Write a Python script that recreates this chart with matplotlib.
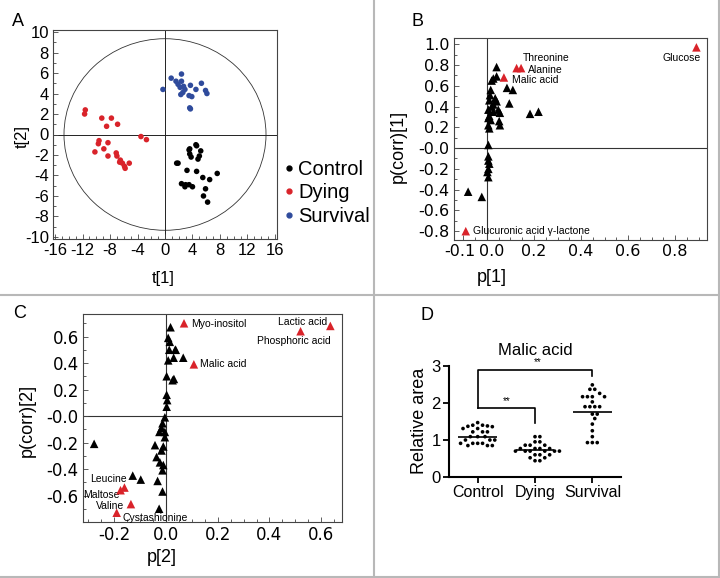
import numpy as np
import matplotlib
matplotlib.use('Agg')
import matplotlib.pyplot as plt
from matplotlib.patches import Ellipse
from matplotlib.lines import Line2D
from matplotlib.ticker import MultipleLocator
from matplotlib.transforms import ScaledTranslation

plt.rcParams['font.family'] = ['Liberation Sans', 'DejaVu Sans']
plt.rcParams['axes.unicode_minus'] = False

# ---------------- Panel A data (scores plot) ----------------
control_t1 = [4.6, 3.5, 3.6, 3.8, 5.0, 4.8, 1.9, 1.7, 3.2, 4.6, 7.6, 5.5, 6.5, 2.4, 2.9, 3.5, 4.0,
              5.9, 5.6, 6.2, 4.5, 3.6, 5.2, 3.0]
control_t2 = [-1.1, -1.5, -1.9, -2.2, -2.1, -2.4, -2.8, -2.8, -3.5, -3.6, -3.8, -4.2, -4.4, -4.8, -5.1,
              -4.9, -5.1, -5.3, -6.0, -6.6, -1.0, -1.4, -1.6, -4.9]
dying_t1 = [-11.6, -11.7, -9.2, -7.8, -8.5, -6.9, -3.5, -2.7, -9.6, -9.7, -8.3, -10.2, -8.9, -8.3,
            -7.1, -7.0, -6.5, -6.2, -5.8, -5.2, -5.9, -6.6]
dying_t2 = [2.4, 2.0, 1.6, 1.6, 0.8, 1.0, -0.2, -0.5, -0.6, -0.9, -0.8, -1.7, -1.4, -2.1,
            -1.8, -2.1, -2.5, -2.8, -3.3, -2.8, -3.1, -2.7]
survival_t1 = [-0.3, 0.9, 1.6, 2.4, 2.4, 2.2, 2.7, 2.3, 3.7, 4.5, 5.3, 5.9, 6.1, 3.5, 3.9, 3.6,
               3.7, 2.9, 1.9, 2.6]
survival_t2 = [4.4, 5.5, 5.2, 5.9, 5.2, 4.6, 4.7, 3.9, 4.8, 4.4, 5.0, 4.3, 4.0, 3.8, 3.7, 2.6,
               2.5, 4.4, 4.9, 4.1]
group_names = ['Control', 'Dying', 'Survival']
group_colors = ['#000000', '#d9232a', '#2f4b9c']
ellipse_radii = [14.7, 9.35]

# ---------------- Panel B data (S-plot, component 1) ----------------
b_black_p = [0.041, 0.027, 0.041, 0.020, 0.085, 0.110, 0.095, 0.183, 0.219,
             0.016, 0.013, 0.010, 0.035, 0.041, 0.020, 0.006, 0.027, 0.048, 0.055, 0.010,
             0.016, 0.052, 0.006, 0.055, 0.010, 0.027, 0.006,
             0.006, 0.006, 0.006, 0.010, 0.006, 0.002, 0.006, -0.080, -0.022]
b_black_corr = [0.78, 0.67, 0.69, 0.65, 0.58, 0.56, 0.43, 0.33, 0.35,
                0.56, 0.51, 0.46, 0.48, 0.45, 0.40, 0.37, 0.35, 0.37, 0.34, 0.31,
                0.27, 0.26, 0.22, 0.22, 0.19, 0.42, 0.29,
                0.03, -0.08, -0.12, -0.15, -0.20, -0.23, -0.28, -0.42, -0.47]
b_red_names = ['Threonine', 'Alanine', 'Malic acid', 'Glucose', 'Glucuronic acid \u03b3-lactone']
b_red_p = [0.145, 0.126, 0.072, 0.89, -0.09]
b_red_corr = [0.77, 0.77, 0.68, 0.97, -0.80]
b_xticks = [-0.1, 0.0, 0.2, 0.4, 0.6, 0.8]
b_xticklabels = ['-0.1', '0.0', '0.2', '0.4', '0.6', '0.8']
b_yticks = [-0.8, -0.6, -0.4, -0.2, 0.0, 0.2, 0.4, 0.6, 0.8, 1.0]
b_yticklabels = ['-0.8', '-0.6', '-0.4', '-0.2', '-0.0', '0.2', '0.4', '0.6', '0.8', '1.0']

# ---------------- Panel C data (S-plot, component 2) ----------------
c_black_p = [0.018, 0.009, 0.015, 0.013, 0.036, 0.030, 0.009, 0.003, 0.026, 0.003, 0.005, 0.003,
             -0.004, -0.013, -0.017, -0.025, -0.004, 0.067, 0.038, 0.031,
             -0.277, -0.042, -0.010, -0.017, -0.036, -0.023, -0.010, -0.013, -0.128, -0.097,
             -0.032, -0.013, -0.026, -0.004]
c_black_corr = [0.67, 0.59, 0.56, 0.50, 0.50, 0.44, 0.42, 0.30, 0.27, 0.16, 0.12, 0.07,
                -0.01, -0.055, -0.09, -0.12, -0.12, 0.44, 0.50, 0.28,
                -0.21, -0.22, -0.23, -0.26, -0.31, -0.35, -0.37, -0.41, -0.45, -0.48,
                -0.49, -0.57, -0.70, -0.16]
c_red_names = ['Myo-inositol', 'Malic acid', 'Lactic acid', 'Phosphoric acid',
               'Leucine', 'Maltose', 'Valine', 'Cystashionine']
c_red_p = [0.07, 0.108, 0.635, 0.52, -0.16, -0.175, -0.135, -0.19]
c_red_corr = [0.70, 0.39, 0.68, 0.64, -0.54, -0.56, -0.665, -0.73]
c_xticks = [-0.2, 0.0, 0.2, 0.4, 0.6]
c_xticklabels = ['-0.2', '0.0', '0.2', '0.4', '0.6']
c_yticks = [-0.6, -0.4, -0.2, 0.0, 0.2, 0.4, 0.6]
c_yticklabels = ['-0.6', '-0.4', '-0.2', '-0.0', '0.2', '0.4', '0.6']

# ---------------- Panel D data (Malic acid relative area) ----------------
d_control = [1.47, 1.40, 1.40, 1.38, 1.37, 1.36, 1.31, 1.31, 1.22, 1.22, 1.22, 1.09, 1.09, 1.09,
             1.00, 1.00, 1.00, 0.91, 0.91, 0.91, 0.91, 0.85, 0.85, 0.85]
d_dying = [1.09, 1.09, 0.95, 0.95, 0.86, 0.86, 0.86, 0.77, 0.77, 0.77, 0.77, 0.70, 0.70, 0.70,
           0.70, 0.70, 0.70, 0.60, 0.60, 0.60, 0.52, 0.52, 0.44, 0.44]
d_survival = [2.49, 2.37, 2.37, 2.26, 2.17, 2.17, 2.17, 2.17, 2.03, 1.90, 1.90, 1.90, 1.90,
              1.70, 1.70, 1.58, 1.43, 1.25, 1.09, 0.93, 0.93, 0.93]
d_means = [1.08, 0.73, 1.76]
d_groups = ['Control', 'Dying', 'Survival']

# ======================================================================
fig = plt.figure(figsize=(7.2, 5.78), dpi=100)
FW, FH = 720.0, 578.0


def px_axes(l, t, r, b):
    return fig.add_axes([l / FW, 1 - b / FH, (r - l) / FW, (b - t) / FH])


def label_at(ax, which, xpx, ypx):
    pos = ax.get_position()
    ax_x = (xpx / FW - pos.x0) / pos.width
    ax_y = ((1 - ypx / FH) - pos.y0) / pos.height
    axis = ax.xaxis if which == 'x' else ax.yaxis
    axis.label.set_verticalalignment('center')
    axis.label.set_horizontalalignment('center')
    axis.set_label_coords(ax_x, ax_y)


def style_box(ax, labelsize, family):
    for s in ax.spines.values():
        s.set_linewidth(0.8)
        s.set_color('#444444')
    ax.tick_params(which='both', direction='in', top=False, right=False,
                   width=0.6, color='#444444', labelsize=labelsize, pad=3)
    ax.tick_params(which='major', length=3.5)
    ax.tick_params(which='minor', length=2)
    for lab in ax.get_xticklabels() + ax.get_yticklabels():
        lab.set_family(family)


# ---------------- Panel A ----------------
axA = px_axes(53, 30, 277, 239)
axA.add_patch(Ellipse((0, 0), 2 * ellipse_radii[0], 2 * ellipse_radii[1], fill=False,
                      lw=0.6, ec='#333333'))
axA.axhline(0, color='#222222', lw=0.7, zorder=1)
axA.axvline(0, color='#222222', lw=0.7, zorder=1)
for xs, ys, c in [(control_t1, control_t2, group_colors[0]),
                  (dying_t1, dying_t2, group_colors[1]),
                  (survival_t1, survival_t2, group_colors[2])]:
    axA.scatter(xs, ys, s=16, color=c, edgecolors='none', zorder=3)
axA.set_xlim(-16.3, 16.3)
axA.set_ylim(-10.2, 10.2)
axA.set_xticks(range(-16, 17, 4))
axA.set_yticks(range(-10, 11, 2))
axA.xaxis.set_minor_locator(MultipleLocator(1))
axA.yaxis.set_minor_locator(MultipleLocator(1))
style_box(axA, 12, ['Liberation Sans'])
axA.set_xlabel('t[1]', fontsize=12)
axA.set_ylabel('t[2]', fontsize=12)
label_at(axA, 'x', 163, 278)
label_at(axA, 'y', 22, 136)
handles = [Line2D([], [], ls='', marker='o', markersize=3.5, color=c) for c in group_colors]
axA.legend(handles, group_names, loc='center left', frameon=False,
           bbox_to_anchor=(285 / FW, 1 - 193 / FH), bbox_transform=fig.transFigure,
           prop={'size': 14.5}, handlelength=0.4, handletextpad=0.25,
           labelspacing=0.22, borderpad=0, borderaxespad=0)

# ---------------- Panel B ----------------
axB = px_axes(454, 38, 707, 240)
axB.axhline(0, color='#333333', lw=0.8, zorder=1)
axB.axvline(0, color='#333333', lw=0.8, zorder=1)
axB.scatter(b_black_p, b_black_corr, marker='^', s=38, color='black', edgecolors='none', zorder=3)
axB.scatter(b_red_p, b_red_corr, marker='^', s=38, color='#d9232a', edgecolors='none', zorder=4)
b_offsets = [(1.5, 7.5, 'left'), (8.5, -1.5, 'left'), (5.5, -1.5, 'left'),
             (3, -7.5, 'right'), (5, 0, 'left')]
for name, x, y, (dx, dy, ha) in zip(b_red_names, b_red_p, b_red_corr, b_offsets):
    axB.annotate(name, (x, y), xytext=(dx, dy), textcoords='offset points', ha=ha,
                 va='center', fontsize=7.5)
axB.set_xlim(-0.14, 0.935)
axB.set_ylim(-0.885, 1.06)
axB.set_xticks(b_xticks, b_xticklabels)
axB.set_yticks(b_yticks, b_yticklabels)
axB.xaxis.set_minor_locator(MultipleLocator(0.05))
axB.yaxis.set_minor_locator(MultipleLocator(0.1))
style_box(axB, 11.5, ['DejaVu Sans'])
# the two crowded labels near zero sit slightly apart, as in the reference
xt = axB.get_xticklabels()
xt[0].set_transform(xt[0].get_transform() + ScaledTranslation(-4 / 100, 0, fig.dpi_scale_trans))
xt[1].set_transform(xt[1].get_transform() + ScaledTranslation(5 / 100, 0, fig.dpi_scale_trans))
axB.set_xlabel('p[1]', fontsize=13)
axB.set_ylabel('p(corr)[1]', fontsize=13)
label_at(axB, 'x', 492, 277)
label_at(axB, 'y', 398, 146)

# ---------------- Panel C ----------------
axC = px_axes(83, 314, 342, 522)
axC.axhline(0, color='#333333', lw=0.8, zorder=1)
axC.axvline(0, color='#333333', lw=0.8, zorder=1)
axC.scatter(c_black_p, c_black_corr, marker='^', s=38, color='black', edgecolors='none', zorder=3)
axC.scatter(c_red_p, c_red_corr, marker='^', s=38, color='#d9232a', edgecolors='none', zorder=4)
c_offsets = [(5, -0.5, 'left'), (4.5, 0, 'left'), (-2.5, 3, 'right'), (22, -7, 'right'),
             (1.5, 6.5, 'right'), (-0.5, -3.8, 'right'), (-4.5, -1.3, 'right'), (4.5, -3.5, 'left')]
for name, x, y, (dx, dy, ha) in zip(c_red_names, c_red_p, c_red_corr, c_offsets):
    axC.annotate(name, (x, y), xytext=(dx, dy), textcoords='offset points', ha=ha,
                 va='center', fontsize=7.5)
axC.set_xlim(-0.32, 0.68)
axC.set_ylim(-0.80, 0.77)
axC.set_xticks(c_xticks, c_xticklabels)
axC.set_yticks(c_yticks, c_yticklabels)
axC.xaxis.set_minor_locator(MultipleLocator(0.05))
axC.yaxis.set_minor_locator(MultipleLocator(0.1))
style_box(axC, 12, ['DejaVu Sans'])
axC.set_xlabel('p[2]', fontsize=13)
axC.set_ylabel('p(corr)[2]', fontsize=13)
label_at(axC, 'x', 162, 558)
label_at(axC, 'y', 27, 420)

# ---------------- Panel D ----------------
axD = px_axes(449, 366, 621, 477)


def swarm_offsets(values, dx, dy):
    order = np.argsort(values)[::-1]
    placed = []
    offs = np.zeros(len(values))
    for i in order:
        v = values[i]
        k = 0
        while True:
            cands = [0.0] if k == 0 else [k * dx / 2, -k * dx / 2]
            ok = None
            for c in cands:
                if all(((c - px) / dx) ** 2 + ((v - pv) / dy) ** 2 >= 0.999 for px, pv in placed):
                    ok = c
                    break
            if ok is not None:
                offs[i] = ok
                placed.append((ok, v))
                break
            k += 1
    return offs


spacing_px = 4.9
dxu = spacing_px / 57.5
dyu = spacing_px / 37.0
for gi, vals in enumerate([d_control, d_dying, d_survival]):
    vals = np.array(vals)
    offs = swarm_offsets(vals, dxu, dyu)
    axD.scatter(gi + offs, vals, s=7, color='black', edgecolors='none', zorder=3, clip_on=False)
    axD.hlines(d_means[gi], gi - 0.34, gi + 0.34, color='black', lw=1.2, zorder=4)

# significance brackets
axD.plot([0, 0, 2, 2], [1.86, 2.89, 2.89, 2.73], color='black', lw=1.2, clip_on=False)
axD.plot([0, 1, 1], [1.86, 1.86, 1.46], color='black', lw=1.2, clip_on=False)
axD.text(0.5, 1.93, '**', ha='center', va='bottom', fontsize=7)
axD.text(1.05, 2.96, '**', ha='center', va='bottom', fontsize=7)

axD.set_xlim(-0.5, 2.5)
axD.set_ylim(0, 3)
for s in ['top', 'right']:
    axD.spines[s].set_visible(False)
for s in ['left', 'bottom']:
    axD.spines[s].set_linewidth(1.5)
axD.set_yticks([0, 1, 2, 3])
axD.set_xticks(range(3), d_groups)
axD.tick_params(direction='out', length=4, width=1.3, labelsize=12, pad=2)
for lab in axD.get_xticklabels():
    lab.set_fontsize(11.5)
axD.set_title('Malic acid', fontsize=12, pad=8)
axD.set_ylabel('Relative area', fontsize=13)
label_at(axD, 'y', 420, 421)

# ---------------- panel letters and dividers ----------------
for letter, x, y in [('A', 18, 21), ('B', 417, 21), ('C', 20, 314), ('D', 427, 315)]:
    fig.text(x / FW, 1 - y / FH, letter, ha='center', va='center', fontsize=13)

div = dict(transform=fig.transFigure, color='#b8b8b8', lw=1.5)
fig.add_artist(Line2D([0, 1], [1 - 295 / FH] * 2, **div))
fig.add_artist(Line2D([374 / FW] * 2, [0, 1], **div))
fig.add_artist(Line2D([719 / FW] * 2, [0, 1], **div))
fig.add_artist(Line2D([0, 1], [1 - 577 / FH] * 2, **div))

fig.savefig('out.png', dpi=100, facecolor='white')
